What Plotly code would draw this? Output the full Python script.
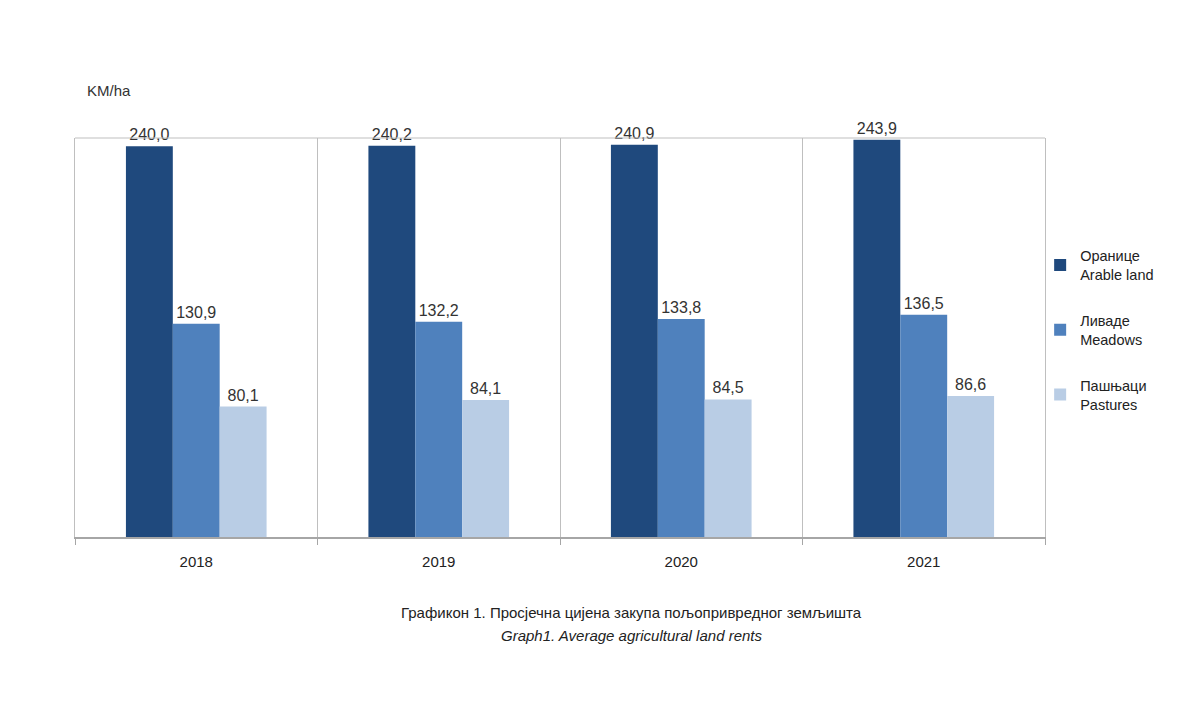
import plotly.graph_objects as go

years = ["2018", "2019", "2020", "2021"]
arable = [240.0, 240.2, 240.9, 243.9]
meadows = [130.9, 132.2, 133.8, 136.5]
pastures = [80.1, 84.1, 84.5, 86.6]
names = ["Оранице<br>Arable land", "Ливаде<br>Meadows", "Пашњаци<br>Pastures"]
colors = ["#1F497D", "#4F81BD", "#B9CDE5"]

FONT = "Arial, Liberation Sans, sans-serif"

fig = go.Figure()
for i, (vals, nm, col) in enumerate(zip([arable, meadows, pastures], names, colors)):
    fig.add_trace(go.Bar(
        x=years, y=vals, name=nm, marker=dict(color=col, line=dict(width=0)),
        texttemplate="%{y:.1f}", textposition="outside",
        textfont=dict(size=16, color="#333333", family=FONT),
        cliponaxis=False, legendgroup=f"g{i}",
    ))

fig.update_layout(
    width=1200, height=712,
    paper_bgcolor="white", plot_bgcolor="white",
    separators=", ",
    barmode="group", bargap=0.42, bargroupgap=0,
    margin=dict(l=67, r=163, t=130, b=183),
    font=dict(family=FONT, size=15, color="#222222"),
    legend=dict(x=0.995, y=0.745, xanchor="left", yanchor="top",
                bgcolor="rgba(0,0,0,0)",
                font=dict(size=14.5, color="#222222", family=FONT),
                tracegroupgap=24, itemwidth=30, traceorder="grouped"),
    annotations=[
        dict(text="KM/ha", xref="paper", yref="paper", x=0.01, y=1.12,
             xanchor="left", yanchor="middle", showarrow=False,
             font=dict(size=15, color="#333333")),
        dict(text="Графикон 1. Просјечна цијена закупа пољопривредног земљишта",
             xref="paper", yref="paper", x=0.574, y=-0.188, xanchor="center",
             yanchor="middle", showarrow=False, font=dict(size=15, color="#222222")),
        dict(text="<i>Graph1. Average agricultural land rents</i>",
             xref="paper", yref="paper", x=0.574, y=-0.248, xanchor="center",
             yanchor="middle", showarrow=False, font=dict(size=15, color="#222222")),
    ],
)
fig.update_xaxes(type="category", tickson="boundaries", showgrid=True,
                 gridcolor="#BFBFBF", gridwidth=1, ticks="outside", ticklen=6,
                 tickcolor="#A6A6A6", showline=True, linecolor="#A6A6A6",
                 linewidth=1.5, mirror=False, ticklabelstandoff=10,
                 tickfont=dict(size=15, color="#222222"))
fig.update_yaxes(range=[0, 245], showticklabels=False, showgrid=False, zeroline=False,
                 showline=True, linecolor="#BFBFBF", linewidth=1, mirror=True, ticks="")
fig.add_shape(type="line", xref="paper", yref="paper", x0=0, x1=1, y0=1, y1=1,
              line=dict(color="#BFBFBF", width=1))
fig.write_html("out.html")
